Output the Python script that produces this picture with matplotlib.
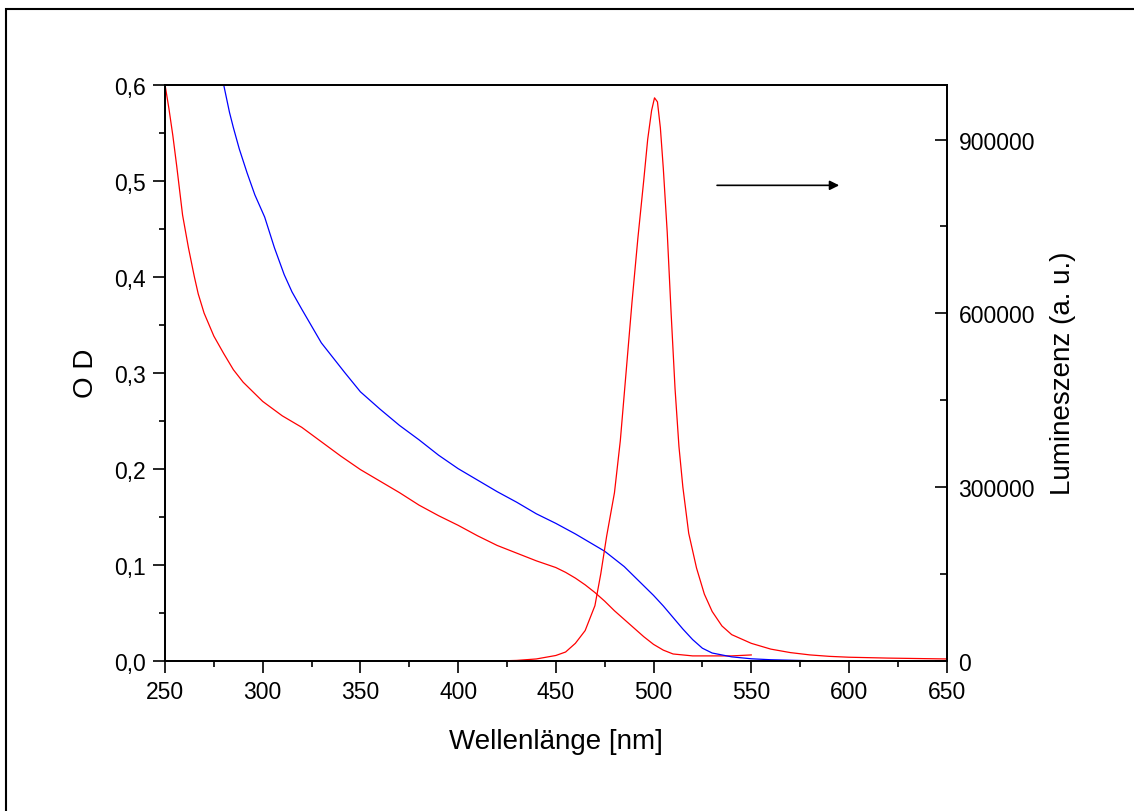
import matplotlib.pyplot as plt
from matplotlib.patches import Rectangle
from matplotlib.ticker import MultipleLocator, FuncFormatter

plt.rcParams['font.family'] = ['Liberation Sans', 'DejaVu Sans']

# Absorption (OD), rote Kurve
abs_red_nm = [250, 252, 254, 256, 259, 262, 265, 267, 270, 275, 280, 285, 290,
              295, 300, 310, 320, 330, 340, 350, 360, 370, 380, 390, 400, 410,
              420, 430, 440, 450, 455, 460, 465, 470, 475, 480, 485, 490, 495,
              500, 505, 510, 520, 530, 540, 550]
abs_red_od = [0.600, 0.575, 0.547, 0.515, 0.464, 0.430, 0.400, 0.382, 0.362,
              0.338, 0.320, 0.303, 0.290, 0.280, 0.270, 0.255, 0.243, 0.228,
              0.213, 0.199, 0.187, 0.175, 0.162, 0.151, 0.141, 0.130, 0.120,
              0.112, 0.104, 0.097, 0.092, 0.086, 0.079, 0.071, 0.062, 0.052,
              0.043, 0.034, 0.025, 0.017, 0.011, 0.007, 0.005, 0.005, 0.005,
              0.006]

# Absorption (OD), blaue Kurve
abs_blue_nm = [280, 283, 285, 288, 292, 296, 301, 306, 311, 315, 320, 330, 342,
               350, 360, 370, 380, 390, 400, 410, 420, 430, 440, 450, 460, 470,
               475, 480, 485, 490, 495, 500, 505, 510, 515, 520, 525, 530, 540,
               550, 560, 580, 600]
abs_blue_od = [0.600, 0.571, 0.555, 0.533, 0.508, 0.485, 0.462, 0.430, 0.402,
               0.384, 0.366, 0.331, 0.300, 0.280, 0.262, 0.245, 0.230, 0.214,
               0.200, 0.188, 0.176, 0.165, 0.153, 0.143, 0.132, 0.120, 0.114,
               0.106, 0.098, 0.088, 0.078, 0.068, 0.057, 0.045, 0.033, 0.022,
               0.013, 0.008, 0.004, 0.002, 0.001, 0.000, 0.000]

# Lumineszenz
lum_nm = [425, 430, 440, 450, 455, 460, 465, 470, 473, 476, 480, 483, 486, 489,
          492, 495, 497, 499, 500.5, 502, 503.5, 505, 507, 509, 511, 513, 515,
          518, 522, 526, 530, 535, 540, 550, 560, 570, 580, 590, 600, 620, 640,
          650]
lum_val = [0, 500, 3000, 9000, 15000, 30000, 52000, 95000, 150000, 215000,
           290000, 380000, 500000, 620000, 730000, 830000, 900000, 950000,
           972000, 965000, 920000, 850000, 740000, 600000, 470000, 370000,
           300000, 220000, 160000, 115000, 85000, 60000, 45000, 30000, 20000,
           14000, 10000, 7500, 6000, 4500, 3500, 3000]

fig = plt.figure(figsize=(11.34, 8.12), dpi=100)
ax = fig.add_axes([0.1455, 0.1851, 0.6893, 0.7096])
ax2 = ax.twinx()

ax.plot(abs_red_nm, abs_red_od, color='red', lw=0.9)
ax.plot(abs_blue_nm, abs_blue_od, color='blue', lw=0.9)
ax2.plot(lum_nm, lum_val, color='red', lw=0.9)

ax.set_xlim(250, 650)
ax.set_ylim(0, 0.6)
ax2.set_ylim(0, 995000)

ax.xaxis.set_major_locator(MultipleLocator(50))
ax.xaxis.set_minor_locator(MultipleLocator(25))
ax.yaxis.set_major_locator(MultipleLocator(0.1))
ax.yaxis.set_minor_locator(MultipleLocator(0.05))
ax.yaxis.set_major_formatter(FuncFormatter(lambda v, p: f"{v:.1f}".replace('.', ',')))
ax2.yaxis.set_major_locator(MultipleLocator(300000))
ax2.yaxis.set_minor_locator(MultipleLocator(150000))
ax2.yaxis.set_major_formatter(FuncFormatter(lambda v, p: f"{v:.0f}"))

ax.tick_params(which='major', direction='out', length=8.5, width=1.2, labelsize=16.5)
ax.tick_params(axis='y', which='major', pad=5)
ax.tick_params(axis='x', which='major', pad=5.5)
ax.tick_params(which='minor', direction='out', length=4, width=1.2)
ax2.tick_params(which='major', direction='in', length=8.5, width=1.2,
                labelsize=16.5, pad=8.5)
ax2.tick_params(which='minor', direction='in', length=5, width=1.2)

for a in (ax, ax2):
    for s in a.spines.values():
        s.set_linewidth(1.3)

ax.set_xlabel('Wellenlänge [nm]', fontsize=20, labelpad=18)
ax.set_ylabel('O D', fontsize=20, labelpad=11)
ax2.set_ylabel('Lumineszenz (a. u.)', fontsize=20, labelpad=11)

# Pfeil zur rechten Achse
ax.annotate('', xy=(595, 0.495), xytext=(532.5, 0.495),
            arrowprops=dict(arrowstyle='-|>', color='black', lw=1.2,
                            mutation_scale=14, shrinkA=0, shrinkB=0))

# Rahmen um die Grafik
fig.patches.append(Rectangle((6 / 1134, -0.05), 1.1, 1 - 10 / 812 + 0.05,
                             transform=fig.transFigure, fill=False,
                             edgecolor='black', lw=1.5))

fig.savefig('out.png', dpi=100)
